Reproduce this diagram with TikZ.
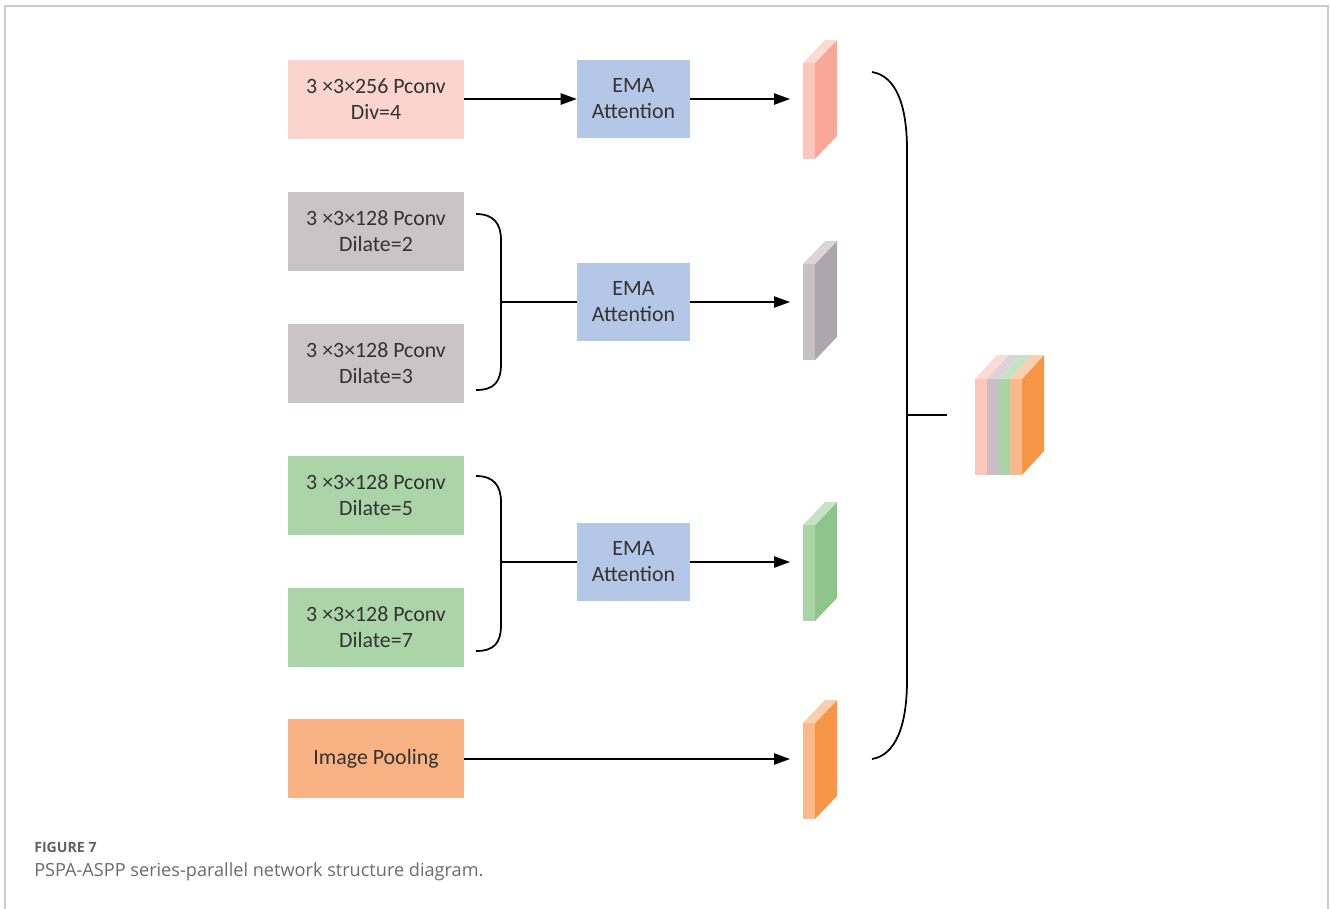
\documentclass[tikz,border=0pt]{standalone}
\usepackage{fontspec}
\setmainfont{Carlito}
\newfontfamily\capfont{Open Sans}
\usetikzlibrary{arrows.meta}
\definecolor{txt}{HTML}{333333}
\definecolor{pinkbox}{HTML}{FBD5CD}
\definecolor{graybox}{HTML}{C9C4C5}
\definecolor{greenbox}{HTML}{ABD4A8}
\definecolor{orangebox}{HTML}{F8B283}
\definecolor{emabox}{HTML}{B4C7E7}
\definecolor{frame}{HTML}{CBCBCB}
\definecolor{pinkF}{HTML}{FCC6BC}\definecolor{pinkS}{HTML}{F9A796}\definecolor{pinkT}{HTML}{FDDBD4}
\definecolor{grayF}{HTML}{C6C2C3}\definecolor{grayS}{HTML}{ADA6AA}\definecolor{grayT}{HTML}{DAD6D7}
\definecolor{greenF}{HTML}{AAD4A6}\definecolor{greenS}{HTML}{8EC58A}\definecolor{greenT}{HTML}{C6E4C3}
\definecolor{orangeF}{HTML}{F9B98B}\definecolor{orangeS}{HTML}{F79646}\definecolor{orangeT}{HTML}{FBCFAE}
\definecolor{lavF}{HTML}{CBBCC6}\definecolor{lavT}{HTML}{DCD3D8}
\newcommand\fmap[5]{%
  \fill[#3] (#1,#2) rectangle (#1+12,#2+96);
  \fill[#4] (#1+12,#2) -- (#1+34,#2-23) -- (#1+34,#2+73) -- (#1+12,#2+96) -- cycle;
  \fill[#5] (#1,#2) -- (#1+22,#2-23) -- (#1+34,#2-23) -- (#1+12,#2) -- cycle;
}
\begin{document}
\begin{tikzpicture}[x=0.75pt,y=-0.75pt,
  convbox/.style={rectangle, inner sep=0pt, minimum width=132pt, minimum height=59.25pt, text=txt, font=\fontsize{16.4}{19.5}\selectfont, align=center},
  emab/.style={rectangle, fill=emabox, inner sep=0pt, minimum width=84.75pt, minimum height=58.5pt, text=txt, font=\fontsize{16.4}{19.5}\selectfont, align=center},
  arr/.style={line width=1.1pt, -{Triangle[length=12pt,width=8.5pt]}},
  ln/.style={line width=1.1pt},
  brace/.style={line width=1.3pt}]
\useasboundingbox (0,0) rectangle (1330,908);
\draw[frame, line width=1.5pt] (4.5,910) -- (4.5,6) -- (1327.5,6) -- (1327.5,910);

% left boxes
\node[convbox, fill=pinkbox] (b1) at (376,99.5) {3 ×3×256 Pconv\\Div=4};
\node[convbox, fill=graybox] (b2) at (376,231.5) {3 ×3×128 Pconv\\Dilate=2};
\node[convbox, fill=graybox] (b3) at (376,363.5) {3 ×3×128 Pconv\\Dilate=3};
\node[convbox, fill=greenbox] (b4) at (376,495.5) {3 ×3×128 Pconv\\Dilate=5};
\node[convbox, fill=greenbox] (b5) at (376,627.5) {3 ×3×128 Pconv\\Dilate=7};
\node[convbox, fill=orangebox] (b6) at (376,758.5) {Image Pooling};

% EMA boxes
\node[emab] (e1) at (633.5,99) {EMA\\Attention};
\node[emab] (e2) at (633.5,302) {EMA\\Attention};
\node[emab] (e3) at (633.5,562) {EMA\\Attention};

% feature maps
\fmap{803}{63}{pinkF}{pinkS}{pinkT}
\fmap{803}{264}{grayF}{grayS}{grayT}
\fmap{803}{525}{greenF}{greenS}{greenT}
\fmap{803}{723}{orangeF}{orangeS}{orangeT}
\coordinate (f1) at (790,99);
\coordinate (f2) at (790,302);
\coordinate (f3) at (790,562);
\coordinate (f4) at (790,759);

% brackets
\coordinate (j1) at (501,302);
\coordinate (j2) at (501,562);
\draw[brace] (476,214) .. controls (494,214) and (501,224) .. (501,240) -- (501,364) .. controls (501,382) and (494,390) .. (476,390);
\draw[brace] (476,476) .. controls (494,476) and (501,486) .. (501,502) -- (501,625) .. controls (501,643) and (494,651) .. (476,651);

% arrows
\draw[arr] (b1.east |- e1.west) -- (e1.west);
\draw[arr] (e1.east) -- (f1);
\draw[ln] (j1) -- (e2.west);
\draw[arr] (e2.east) -- (f2);
\draw[ln] (j2) -- (e3.west);
\draw[arr] (e3.east) -- (f3);
\draw[arr] (b6.east |- f4) -- (f4);

% right brace
\coordinate (j3) at (907,415);
\coordinate (cc) at (947,415);
\draw[brace] (872,72) .. controls (896,76) and (907,105) .. (907,150) -- (907,680) .. controls (907,725) and (896,755) .. (872,759);
\draw[ln] (j3) -- (cc);

% concatenated block
\fill[pinkF] (975,379) rectangle (986.75,475);
\fill[lavF] (986.75,379) rectangle (998.5,475);
\fill[greenF] (998.5,379) rectangle (1010.25,475);
\fill[orangeF] (1010.25,379) rectangle (1022,475);
\fill[orangeS] (1022,379) -- (1044,355) -- (1044,451) -- (1022,475) -- cycle;
\fill[pinkT] (975,379) -- (997,355) -- (1008.75,355) -- (986.75,379) -- cycle;
\fill[lavT] (986.75,379) -- (1008.75,355) -- (1020.5,355) -- (998.5,379) -- cycle;
\fill[greenT] (998.5,379) -- (1020.5,355) -- (1032.25,355) -- (1010.25,379) -- cycle;
\fill[orangeT] (1010.25,379) -- (1032.25,355) -- (1044,355) -- (1022,379) -- cycle;

% caption
\node[anchor=base west, inner sep=0pt, text=black!62, font=\capfont\bfseries\fontsize{10.6}{12}\selectfont] (cap1) at (34,852) {FIGURE 7};
\node[anchor=base west, inner sep=0pt, text=black!58, font=\capfont\fontsize{13.6}{15}\selectfont] (cap2) at (34,876) {PSPA-ASPP series-parallel network structure diagram.};
\end{tikzpicture}
\end{document}
